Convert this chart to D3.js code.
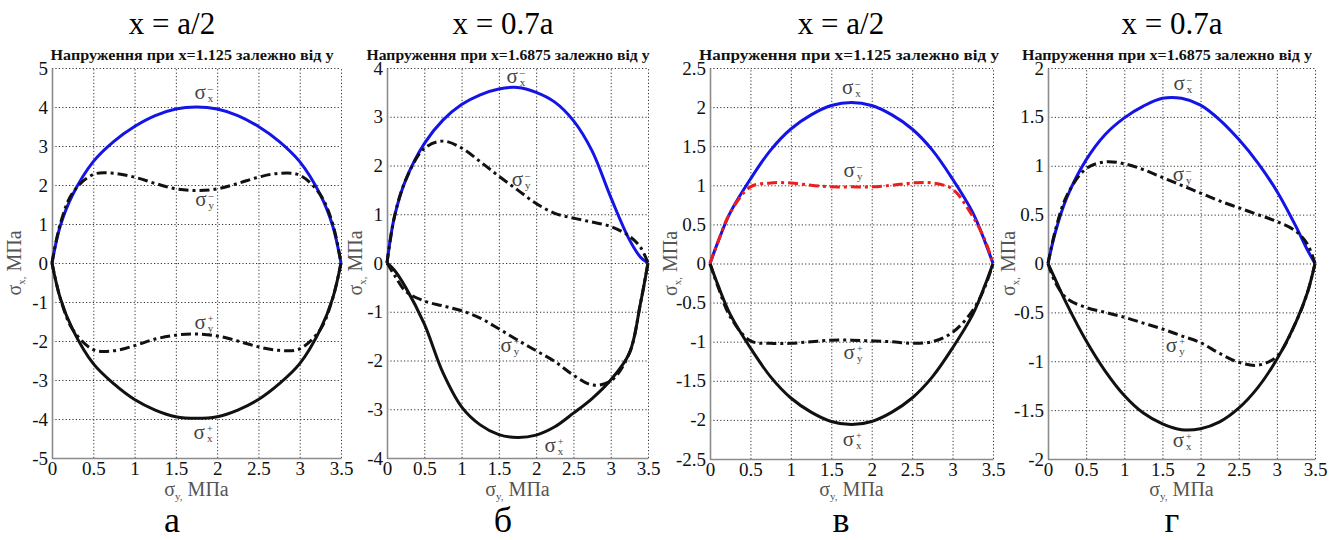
<!DOCTYPE html>
<html>
<head>
<meta charset="utf-8">
<script src="https://cdn.jsdelivr.net/npm/d3@7"></script>
<style>
body { margin: 0; background: #fff; }
svg { display: block; }
svg text { font-family: "Liberation Serif", "Times New Roman", Times, "DejaVu Serif", serif; }
</style>
</head>
<body>
<div id="chart"></div>
<script>
// sigma_y positions (MPa) where the curves were read
const yPos = [0, 0.1, 0.25, 0.5, 0.75, 1, 1.25, 1.5, 1.75, 2, 2.25, 2.5, 2.75, 3, 3.25, 3.4, 3.5];
const xTicks = [0, 0.5, 1, 1.5, 2, 2.5, 3, 3.5];

// панель а  (x = 1.125)
const aSxMinus = [0, 0.95, 1.75, 2.6, 3.12, 3.5, 3.78, 3.95, 4.0, 3.95, 3.78, 3.5, 3.12, 2.6, 1.75, 0.95, 0];
const aSxPlus  = [0, -0.9, -1.7, -2.58, -3.1, -3.5, -3.77, -3.94, -3.98, -3.94, -3.77, -3.5, -3.1, -2.58, -1.7, -0.9, 0];
const aSyMinus = [0, 1.0, 1.8, 2.27, 2.3, 2.2, 2.04, 1.9, 1.86, 1.9, 2.04, 2.2, 2.3, 2.25, 1.75, 1.0, 0];
const aSyPlus  = [0, -0.9, -1.7, -2.22, -2.25, -2.12, -1.95, -1.85, -1.82, -1.87, -2.0, -2.15, -2.24, -2.2, -1.7, -0.9, 0];
const aYTicks  = [-5, -4, -3, -2, -1, 0, 1, 2, 3, 4, 5];

// панель б  (x = 1.6875)
const bSxMinus = [0, 0.95, 1.7, 2.45, 2.93, 3.25, 3.45, 3.57, 3.6, 3.5, 3.3, 2.92, 2.3, 1.35, 0.48, 0.12, 0];
const bSxPlus  = [0, -0.15, -0.5, -1.25, -2.25, -2.95, -3.32, -3.52, -3.58, -3.53, -3.36, -3.08, -2.78, -2.4, -1.85, -0.82, 0];
const bSyMinus = [0, 0.95, 1.7, 2.35, 2.5, 2.36, 2.08, 1.78, 1.5, 1.22, 1.02, 0.92, 0.84, 0.75, 0.55, 0.32, 0];
const bSyPlus  = [0, -0.25, -0.58, -0.78, -0.88, -0.98, -1.13, -1.35, -1.58, -1.8, -2.02, -2.3, -2.5, -2.42, -1.85, -0.82, 0];
const bYTicks  = [-4, -3, -2, -1, 0, 1, 2, 3, 4];

// панель в  (x = 1.125)
const cSxMinus = [0, 0.28, 0.65, 1.08, 1.45, 1.72, 1.9, 2.02, 2.06, 2.02, 1.9, 1.72, 1.45, 1.08, 0.65, 0.28, 0];
const cSxPlus  = [0, -0.28, -0.65, -1.08, -1.45, -1.72, -1.9, -2.02, -2.06, -2.02, -1.9, -1.72, -1.45, -1.08, -0.65, -0.28, 0];
const cSyMinus = [0, 0.28, 0.65, 0.98, 1.03, 1.03, 1.0, 0.98, 0.98, 0.98, 1.0, 1.03, 1.03, 0.95, 0.6, 0.3, 0];
const cSyPlus  = [0, -0.3, -0.68, -0.99, -1.02, -1.02, -1.0, -0.98, -0.98, -0.99, -1.0, -1.02, -1.0, -0.88, -0.6, -0.3, 0];
const cYTicks  = [-2.5, -2, -1.5, -1, -0.5, 0, 0.5, 1, 1.5, 2, 2.5];

// панель г  (x = 1.6875)
const dSxMinus = [0, 0.33, 0.68, 1.06, 1.32, 1.49, 1.61, 1.69, 1.69, 1.62, 1.47, 1.27, 1.03, 0.74, 0.38, 0.14, 0];
const dSxPlus  = [0, -0.17, -0.42, -0.79, -1.1, -1.35, -1.53, -1.64, -1.7, -1.69, -1.62, -1.48, -1.27, -0.98, -0.6, -0.3, 0];
const dSyMinus = [0, 0.35, 0.7, 0.97, 1.04, 1.02, 0.96, 0.88, 0.8, 0.72, 0.64, 0.57, 0.5, 0.43, 0.33, 0.2, 0];
const dSyPlus  = [0, -0.2, -0.36, -0.45, -0.5, -0.55, -0.61, -0.67, -0.74, -0.81, -0.92, -1.01, -1.04, -0.95, -0.6, -0.3, 0];
const dYTicks  = [-2, -1.5, -1, -0.5, 0, 0.5, 1, 1.5, 2];

// підписи кривих: [sigma_y, sigma_x] у координатах даних
const labelKinds = [["x", "-"], ["y", "-"], ["y", "+"], ["x", "+"]];
const aLabels = [[1.85, 4.2], [1.86, 1.46], [1.85, -1.7], [1.84, -4.5]];
const bLabels = [[1.74, 3.7], [1.81, 1.58], [1.66, -1.83], [2.25, -3.88]];
const cLabels = [[1.76, 2.17], [1.78, 1.1], [1.78, -1.22], [1.77, -2.33]];
const dLabels = [[1.78, 1.77], [1.77, 0.84], [1.68, -0.91], [1.77, -1.88]];

const headers = ["x = a/2", "x = 0.7a", "x = a/2", "x = 0.7a"];
const titles = [
    "Напруження при x=1.125 залежно від y",
    "Напруження при x=1.6875 залежно від y",
    "Напруження при x=1.125 залежно від y",
    "Напруження при x=1.6875 залежно від y"
];
const letters = ["а", "б", "в", "г"];

const blue = "#1414e6", black = "#111", red = "#ee1c1c";
const dashDot = "10,4,3,4";

const svg = d3.select("#chart").append("svg")
    .attr("width", 1339)
    .attr("height", 540)
    .style("background", "#fff");

const panels = [
    { left: 52, right: 341, top: 68, bottom: 458, yTicks: aYTicks, series: [aSxMinus, aSxPlus, aSyMinus, aSyPlus], labels: aLabels, syColor: black, yLabOff: 31, headX: 172, titleX: 192, titleW: 283 },
    { left: 387, right: 648, top: 68, bottom: 458, yTicks: bYTicks, series: [bSxMinus, bSxPlus, bSyMinus, bSyPlus], labels: bLabels, syColor: black, yLabOff: 25, headX: 503, titleX: 508, titleW: 283 },
    { left: 710, right: 993, top: 68, bottom: 459, yTicks: cYTicks, series: [cSxMinus, cSxPlus, cSyMinus, cSyPlus], labels: cLabels, syColor: red, yLabOff: 33, headX: 841, titleX: 849, titleW: 300 },
    { left: 1048, right: 1315, top: 68, bottom: 459, yTicks: dYTicks, series: [dSxMinus, dSxPlus, dSyMinus, dSyPlus], labels: dLabels, syColor: black, yLabOff: 33, headX: 1172, titleX: 1167, titleW: 290 }
];

panels.forEach((p, i) => {
    const x = d3.scaleLinear().domain([0, 3.5]).range([p.left, p.right]);
    const y = d3.scaleLinear().domain(d3.extent(p.yTicks)).range([p.bottom, p.top]);
    const g = svg.append("g");

    // заголовок над панеллю
    svg.append("text")
        .attr("x", p.headX).attr("y", 34)
        .attr("text-anchor", "middle")
        .style("font-size", "31px").style("fill", "#000")
        .text(headers[i]);

    // літера під панеллю
    svg.append("text")
        .attr("x", p.headX)
        .attr("y", 532)
        .attr("text-anchor", "middle")
        .style("font-size", "36px").style("fill", "#000")
        .text(letters[i]);

    // назва графіка
    g.append("text")
        .attr("x", p.titleX).attr("y", 60)
        .attr("text-anchor", "middle")
        .attr("textLength", p.titleW).attr("lengthAdjust", "spacingAndGlyphs")
        .style("font-size", "15px").style("font-weight", "bold").style("fill", "#111")
        .text(titles[i]);

    // сітка
    const gridY = g.append("g")
        .attr("transform", `translate(${p.left},0)`)
        .call(d3.axisLeft(y).tickValues(p.yTicks).tickSize(-(p.right - p.left)).tickFormat(""));
    const gridX = g.append("g")
        .attr("transform", `translate(0,${p.bottom})`)
        .call(d3.axisBottom(x).tickValues(xTicks).tickSize(-(p.bottom - p.top)).tickFormat(""));
    [gridY, gridX].forEach(gr => {
        gr.select(".domain").remove();
        gr.selectAll("line")
            .attr("stroke", "#333")
            .attr("stroke-width", 1)
            .attr("stroke-dasharray", "1.2,2.2");
    });

    // осі
    const yAxis = g.append("g")
        .attr("transform", `translate(${p.left},0)`)
        .call(d3.axisLeft(y).tickValues(p.yTicks).tickSize(0).tickPadding(4).tickFormat(d => String(d)));
    const xAxis = g.append("g")
        .attr("transform", `translate(0,${p.bottom})`)
        .call(d3.axisBottom(x).tickValues(xTicks).tickSize(0).tickPadding(3).tickFormat(d => String(d)));
    [yAxis, xAxis].forEach(ax => {
        ax.attr("font-family", null).attr("font-size", null);
        ax.select(".domain").attr("stroke", "#8c8c8c").attr("stroke-width", 1.6);
        ax.selectAll("text")
            .style("font-size", "19px").style("fill", "#111");
    });

    // підписи осей
    const xl = g.append("text")
        .attr("x", (p.left + p.right) / 2).attr("y", 496)
        .attr("text-anchor", "middle")
        .style("font-size", "20px").style("fill", "#555");
    xl.append("tspan").text("σ");
    xl.append("tspan").attr("dy", 4).style("font-size", "11px").text("y,");
    xl.append("tspan").attr("dy", -4).text(" МПа");

    const yl = g.append("text")
        .attr("transform", `translate(${p.left - p.yLabOff},${(p.top + p.bottom) / 2}) rotate(-90)`)
        .attr("text-anchor", "middle")
        .style("font-size", "20px").style("fill", "#555");
    yl.append("tspan").text("σ");
    yl.append("tspan").attr("dy", 4).style("font-size", "11px").text("x,");
    yl.append("tspan").attr("dy", -4).text(" МПа");

    // криві
    const line = d3.line()
        .x((d, k) => x(yPos[k]))
        .y(d => y(d))
        .curve(d3.curveCatmullRom.alpha(0.5));

    const styles = [
        { color: blue, dash: null },
        { color: black, dash: null },
        { color: p.syColor, dash: dashDot },
        { color: black, dash: dashDot }
    ];
    const order = [1, 3, 0, 2];
    order.forEach(k => {
        g.append("path")
            .datum(p.series[k])
            .attr("fill", "none")
            .attr("stroke", styles[k].color)
            .attr("stroke-width", 3)
            .attr("stroke-dasharray", styles[k].dash)
            .attr("stroke-linejoin", "round")
            .attr("d", line);
    });

    // підписи кривих
    p.labels.forEach((lab, k) => {
        const cx = x(lab[0]), cy = y(lab[1]);
        const lg = g.append("g").attr("transform", `translate(${cx},${cy})`)
            .style("fill", "#444");
        lg.append("text").attr("x", 1).attr("text-anchor", "end")
            .style("font-size", "21px").text("σ");
        lg.append("text").attr("x", 3).attr("y", -7)
            .style("font-size", "10px").text(labelKinds[k][1] === "-" ? "–" : "+");
        lg.append("text").attr("x", 3).attr("y", 3)
            .style("font-size", "11px").text(labelKinds[k][0]);
    });
});
</script>
</body>
</html>
